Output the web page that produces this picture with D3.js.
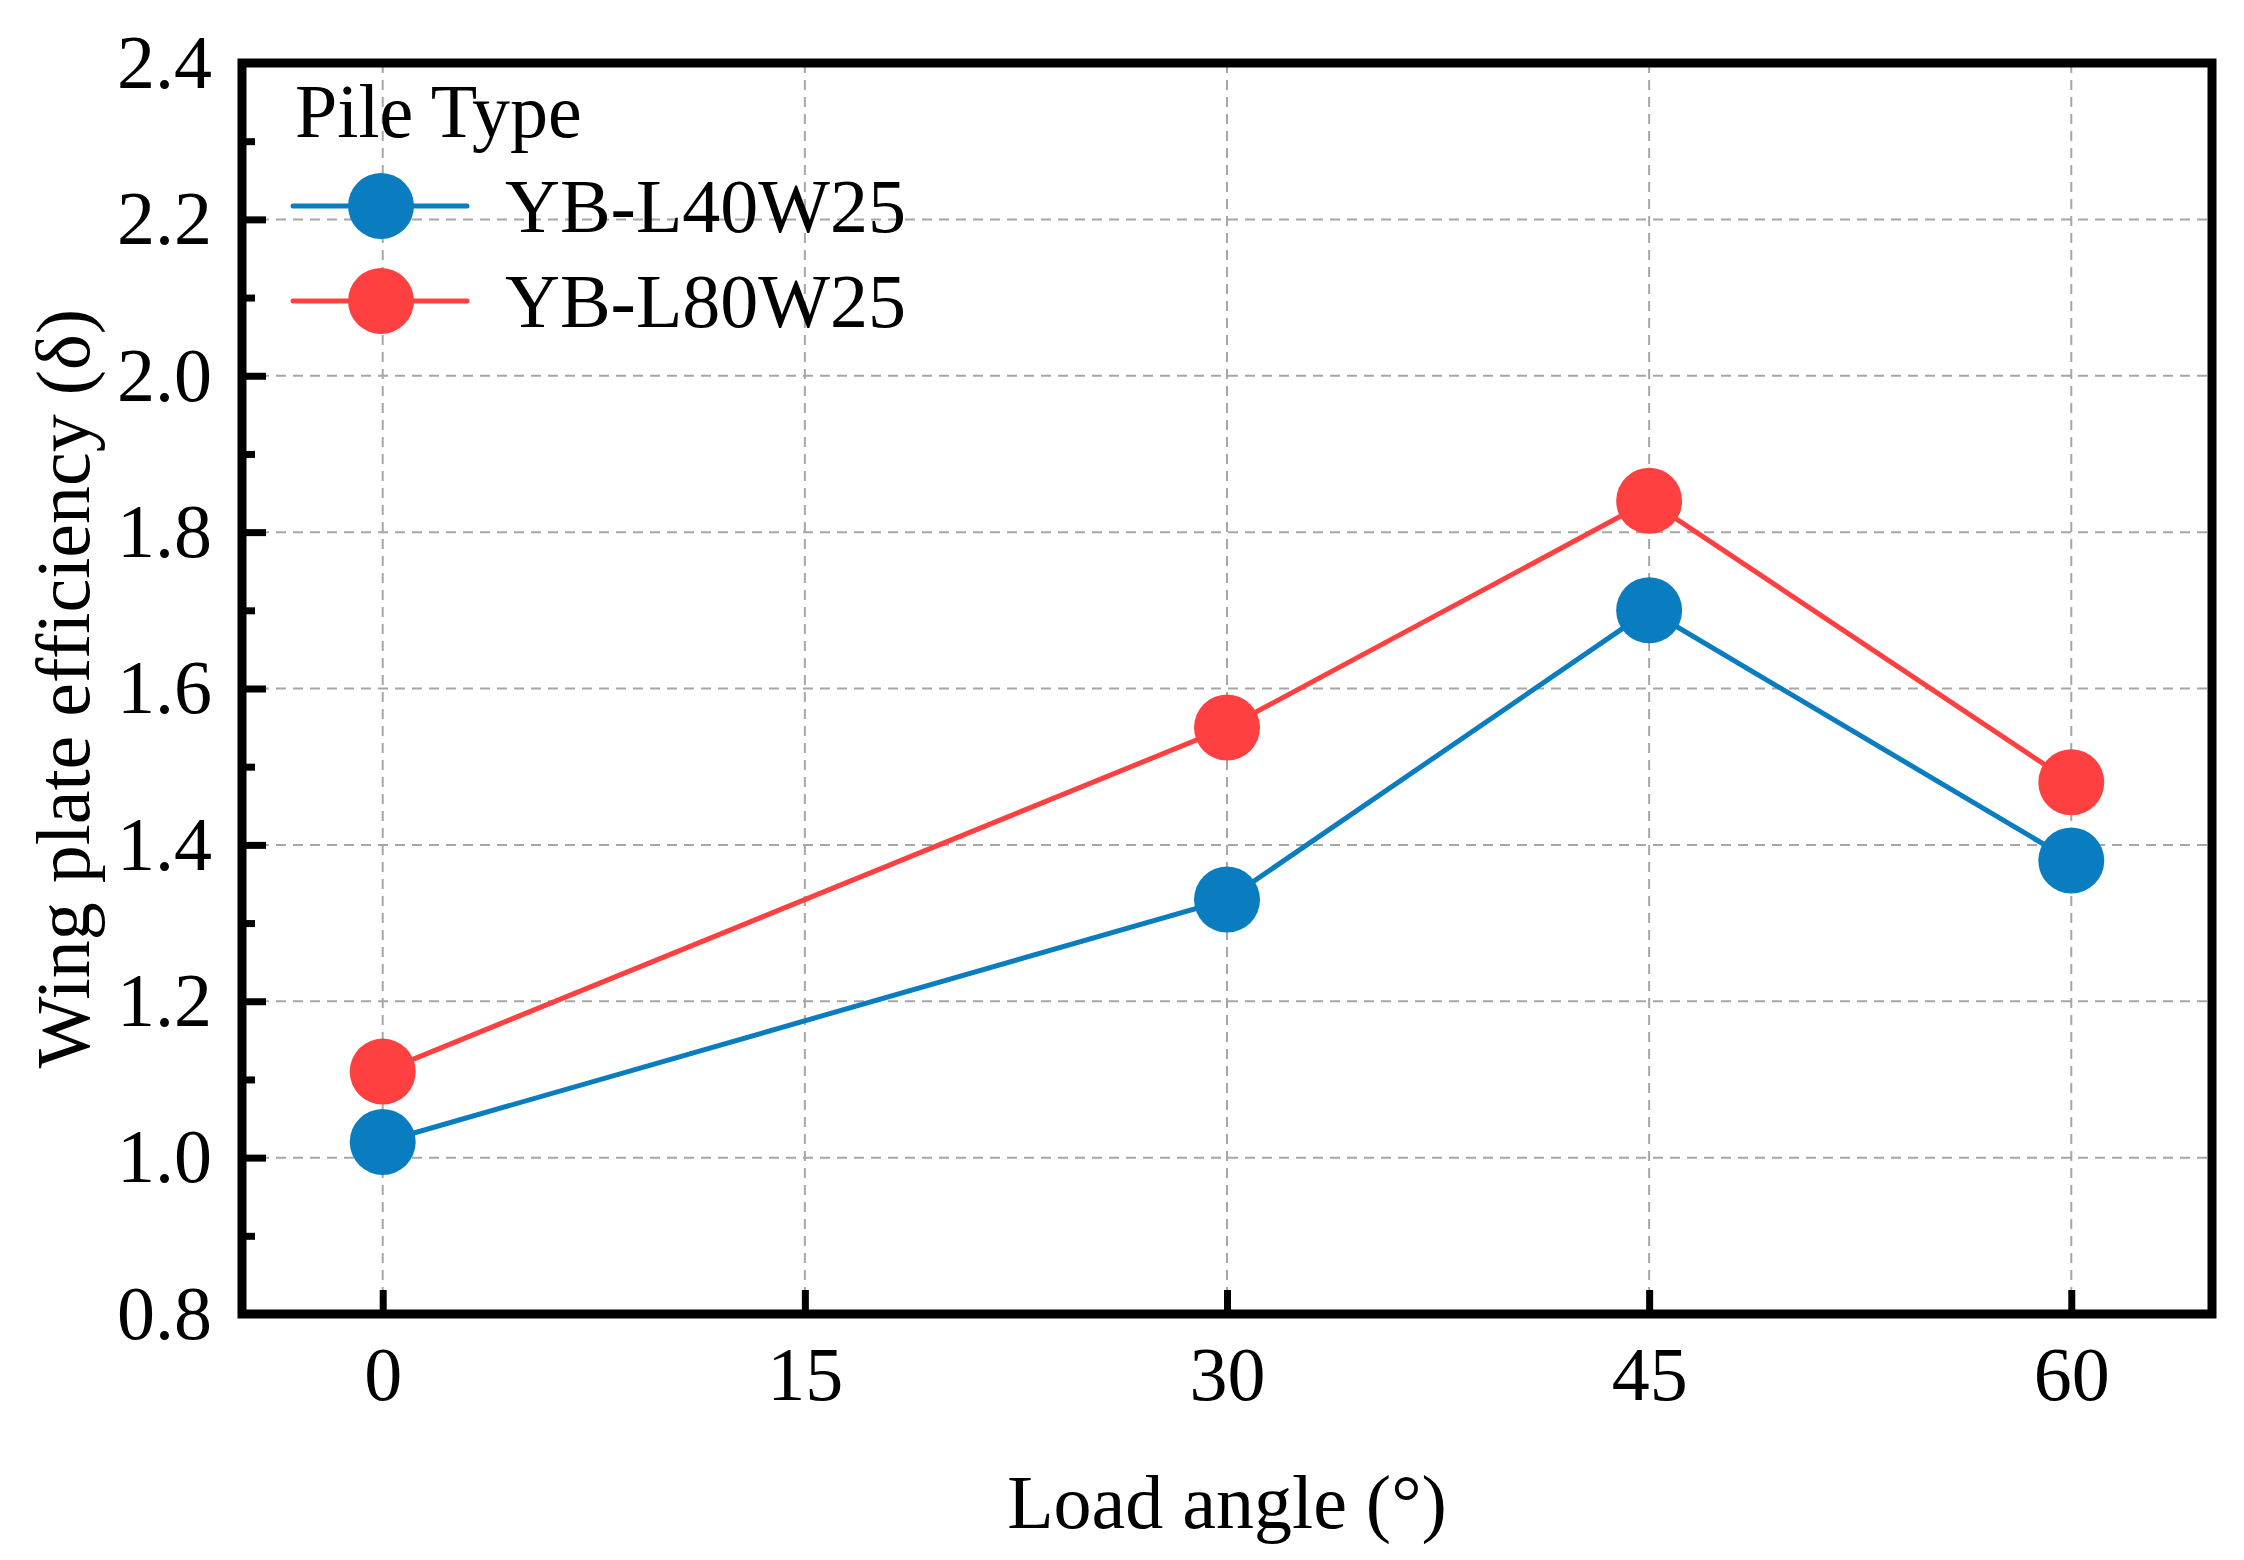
<!DOCTYPE html>
<html>
<head>
<meta charset="utf-8">
<script src="https://cdn.jsdelivr.net/npm/d3@7"></script>
<style>
  body { margin: 0; background: #fff; }
  svg text { font-family: "Liberation Serif", "Times New Roman", serif; fill: #000; }
</style>
</head>
<body>
<div id="chart"></div>
<script>
// data
const angles = [0, 30, 45, 60];
const seriesNames = ["YB-L40W25", "YB-L80W25"];
const valuesL40 = [1.02, 1.33, 1.70, 1.38];
const valuesL80 = [1.11, 1.55, 1.84, 1.48];
const seriesColors = ["#0A7DC0", "#FF4040"];
const xTicks = [0, 15, 30, 45, 60];
const yTicks = [0.8, 1.0, 1.2, 1.4, 1.6, 1.8, 2.0, 2.2, 2.4];
const yMinorTicks = [0.9, 1.1, 1.3, 1.5, 1.7, 1.9, 2.1, 2.3];

const W = 2244, H = 1560;
const plotLeft = 242, plotRight = 2212, plotTop = 63, plotBottom = 1314;
const fontSize = 76;

const svg = d3.select("#chart").append("svg")
    .attr("width", W)
    .attr("height", H);

const x = d3.scaleLinear().domain([-5, 65]).range([plotLeft, plotRight]);
const y = d3.scaleLinear().domain([0.8, 2.4]).range([plotBottom, plotTop]);

// grid
const grid = svg.append("g")
    .attr("stroke", "#a6a6a6")
    .attr("stroke-width", 2)
    .attr("stroke-dasharray", "10,7");
grid.selectAll("line.v").data(xTicks).enter().append("line")
    .attr("x1", d => x(d)).attr("x2", d => x(d))
    .attr("y1", plotTop).attr("y2", plotBottom);
grid.selectAll("line.h").data(yTicks.slice(1, -1)).enter().append("line")
    .attr("x1", plotLeft).attr("x2", plotRight)
    .attr("y1", d => y(d)).attr("y2", d => y(d));

// axes
const xAxis = svg.append("g")
    .attr("transform", `translate(0,${plotBottom})`)
    .call(d3.axisBottom(x).tickValues(xTicks).tickFormat(d3.format("d"))
        .tickSizeInner(-24).tickSizeOuter(0).tickPadding(32));
const yAxis = svg.append("g")
    .attr("transform", `translate(${plotLeft},0)`)
    .call(d3.axisLeft(y).tickValues(yTicks).tickFormat(d3.format(".1f"))
        .tickSizeInner(-24).tickSizeOuter(0).tickPadding(30));
const yMinor = svg.append("g")
    .attr("transform", `translate(${plotLeft},0)`)
    .call(d3.axisLeft(y).tickValues(yMinorTicks).tickFormat("")
        .tickSizeInner(-13).tickSizeOuter(0));

[xAxis, yAxis, yMinor].forEach(a => {
    a.select(".domain").remove();
    a.selectAll(".tick line").attr("stroke", "#000").attr("stroke-width", 7);
    a.selectAll(".tick text").attr("font-size", fontSize)
        .attr("font-family", "Liberation Serif, Times New Roman, serif");
});

svg.append("rect")
    .attr("x", plotLeft).attr("y", plotTop)
    .attr("width", plotRight - plotLeft).attr("height", plotBottom - plotTop)
    .attr("fill", "none").attr("stroke", "#000").attr("stroke-width", 9);

// axis titles
svg.append("text")
    .attr("x", (plotLeft + plotRight) / 2).attr("y", 1528)
    .attr("text-anchor", "middle").attr("font-size", fontSize)
    .text("Load angle (°)");
svg.append("text")
    .attr("transform", `translate(89,${(plotTop + plotBottom) / 2}) rotate(-90)`)
    .attr("text-anchor", "middle").attr("font-size", fontSize)
    .text("Wing plate efficiency (δ)");

// series
const series = [valuesL40, valuesL80];
const line = d3.line().x((d, i) => x(angles[i])).y(d => y(d));
series.forEach((vals, s) => {
    svg.append("path")
        .datum(vals)
        .attr("d", line)
        .attr("fill", "none")
        .attr("stroke", seriesColors[s])
        .attr("stroke-width", 5);
    svg.selectAll(null).data(vals).enter().append("circle")
        .attr("cx", (d, i) => x(angles[i]))
        .attr("cy", d => y(d))
        .attr("r", 33)
        .attr("fill", seriesColors[s]);
});

// legend
const legend = svg.append("g");
legend.append("text")
    .attr("x", 295).attr("y", 137)
    .attr("font-size", fontSize)
    .text("Pile Type");
seriesNames.forEach((name, i) => {
    const ly = 206 + i * 95;
    legend.append("line")
        .attr("x1", 293).attr("x2", 467)
        .attr("y1", ly).attr("y2", ly)
        .attr("stroke", seriesColors[i]).attr("stroke-width", 5)
        .attr("stroke-linecap", "round");
    legend.append("circle")
        .attr("cx", 381).attr("cy", ly).attr("r", 33)
        .attr("fill", seriesColors[i]);
    legend.append("text")
        .attr("x", 505).attr("y", ly + 26)
        .attr("font-size", fontSize)
        .text(name);
});
</script>
</body>
</html>
